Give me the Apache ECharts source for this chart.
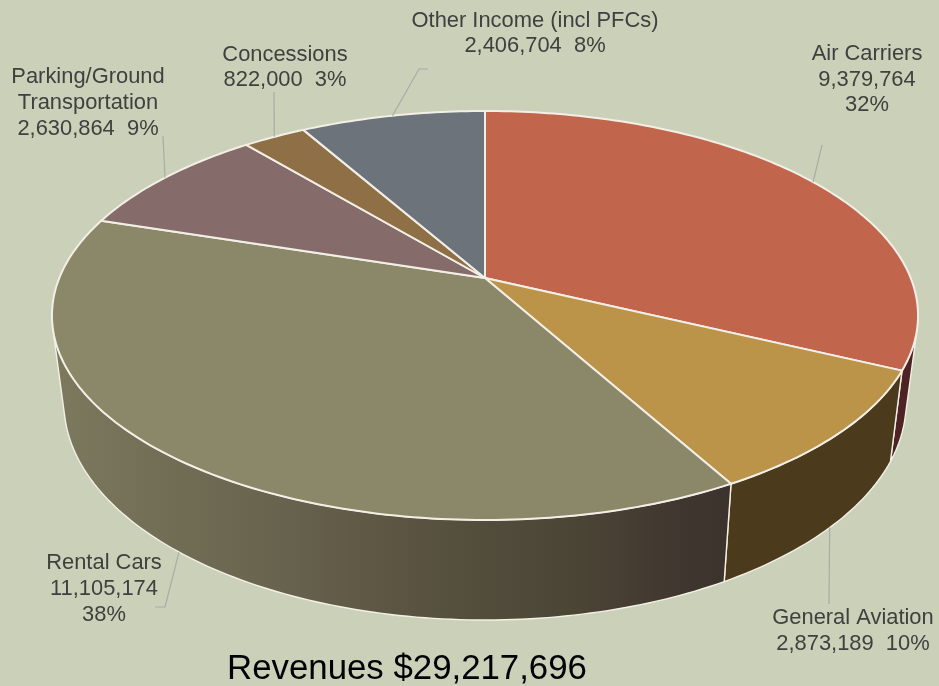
<!DOCTYPE html>
<html>
<head>
<meta charset="utf-8">
<style>html,body{margin:0;padding:0;background:#cbd0b8}#c{width:939px;height:686px}</style>
<script src="https://cdn.jsdelivr.net/npm/echarts@6/dist/echarts.min.js"></script>
</head>
<body>
<div id="c"></div>
<script>
const categories = ['Air Carriers','General Aviation','Rental Cars','Parking/Ground Transportation','Concessions','Other Income (incl PFCs)'];
const values = [9379764, 2873189, 11105174, 2630864, 822000, 2406704];
const valueLabels = ['9,379,764','2,873,189','11,105,174','2,630,864','822,000','2,406,704'];
const chartTitle = 'Revenues $29,217,696';

const topColors = ['#c1654d','#bb9449','#8b8769','#856b6a','#8f7046','#6c737a'];
const wallColors = ['#4f2223','#4c3a1c', null];
const rentalWallStops = [
  {offset:0,color:'#7d795e'},{offset:0.18,color:'#716d55'},{offset:0.36,color:'#66614c'},
  {offset:0.52,color:'#5a5441'},{offset:0.68,color:'#4f4a39'},{offset:0.78,color:'#4a4435'},
  {offset:0.88,color:'#433b31'},{offset:1,color:'#3a322c'}
];

// label layout: text lines, centre, and leader-line elbow points (pixels)
const labelLayout = [
  {lines:n=>`Air Carriers\n${n.v}\n${n.p}`, x:867, y:79.5, leader:[[822,145]], wall:false},
  {lines:n=>`General Aviation\n${n.v}  ${n.p}`, x:853, y:631, leader:[[829,604]], wall:true},
  {lines:n=>`Rental Cars\n${n.v}\n${n.p}`, x:104, y:589, leader:[[165,607],[155,607]], wall:true},
  {lines:n=>`Parking/Ground\nTransportation\n${n.v}  ${n.p}`, x:88, y:103, leader:[[163,136]], wall:false},
  {lines:n=>`Concessions\n${n.v}  ${n.p}`, x:285, y:67.5, leader:[[274,92]], wall:false},
  {lines:n=>`Other Income (incl PFCs)\n${n.v}  ${n.p}`, x:535, y:33.5, leader:[[419,69],[428,69]], wall:false}
];

const total = values.reduce((s,v)=>s+v,0);
const CX = 485, PERSP = 0.1834;
const topRim = {a:278, b:-146.64, R:425.7};
const botRim = {a:363.2, b:-143.1, R:413.9};
const rad = d => d*Math.PI/180;
function rim(p, deg){
  const u=Math.cos(rad(deg)), v=Math.sin(rad(deg)), d=1+PERSP*u;
  return [CX+p.R*v/d,(p.a+p.b*u)/d];
}
const angles=[0]; values.forEach((v,i)=>angles.push(angles[i]+v/total*360));

function support(p,nx,ny,from,to){
  let best=from,bv=-Infinity;
  for(let t=from;t<=to;t+=0.25){const q=rim(p,t),s=q[0]*nx+q[1]*ny;if(s>bv){bv=s;best=t;}}
  return best;
}
function tangent(side){
  const from=side>0?40:200,to=side>0?160:320;
  let tt=side>0?90:270,tb=tt;
  for(let i=0;i<8;i++){
    const pt=rim(topRim,tt),pb=rim(botRim,tb);
    const dx=pb[0]-pt[0],dy=pb[1]-pt[1];
    const nx=side>0?dy:-dy,ny=side>0?-dx:dx;
    tt=support(topRim,nx,ny,from,to);tb=support(botRim,nx,ny,from,to);
  }
  return {tt,tb};
}
const tanR=tangent(1),tanL=tangent(-1);

function arc(p,a,b){
  const pts=[],n=Math.max(2,Math.ceil(Math.abs(b-a)));
  for(let i=0;i<=n;i++)pts.push(rim(p,a+(b-a)*i/n));
  return pts;
}

function renderWall(params){
  const i=params.dataIndex,a=angles[i],b=angles[i+1];
  if(i>2)return null;
  const at=Math.max(a,tanR.tt),ab=Math.max(a,tanR.tb),bt=Math.min(b,tanL.tt),bb=Math.min(b,tanL.tb);
  const pts=arc(topRim,at,bt).concat(arc(botRim,bb,ab));
  const fill=i===2?{type:'linear',global:true,x:52,y:0,x2:732,y2:0,colorStops:rentalWallStops}:wallColors[i];
  return {type:'polygon',shape:{points:pts},style:{fill,stroke:'#f3f1e6',lineWidth:1.4,lineJoin:'round'}};
}
function renderTop(params){
  const i=params.dataIndex;
  const pts=[[CX,topRim.a]].concat(arc(topRim,angles[i],angles[i+1]));
  return {type:'polygon',shape:{points:pts},style:{fill:topColors[i],stroke:'#f3efe6',lineWidth:2,lineJoin:'round'}};
}
function renderLabel(params,api){
  const i=params.dataIndex,l=labelLayout[i],val=api.value(0);
  const mid=(angles[i]+angles[i+1])/2;
  const start=rim(l.wall?botRim:topRim,mid);
  return {type:'group',children:[
    {type:'polyline',shape:{points:[start].concat(l.leader)},style:{fill:null,stroke:'#a9abab',lineWidth:1.2}},
    {type:'text',style:{
      text:l.lines({v:valueLabels[i],p:Math.round(val/total*100)+'%'}),
      x:l.x,y:l.y,align:'center',verticalAlign:'middle',
      font:'21.9px "Liberation Sans", Arial, sans-serif',lineHeight:25.7,fill:'#404040'}}
  ]};
}

const chart=echarts.init(document.getElementById('c'),null,{renderer:'canvas'});
chart.setOption({
  animation:false,
  backgroundColor:'#cbd0b8',
  title:{text:chartTitle,left:402,top:647,textAlign:'center',
    textStyle:{fontFamily:'"Liberation Sans", Arial, sans-serif',fontSize:34.8,fontWeight:'normal',color:'#000'}},
  series:[
    {type:'custom',name:'walls',coordinateSystem:'none',z:1,silent:true,data:values,renderItem:renderWall},
    {type:'custom',name:'tops',coordinateSystem:'none',z:2,silent:true,data:values,renderItem:renderTop},
    {type:'custom',name:'labels',coordinateSystem:'none',z:3,silent:true,data:values,renderItem:renderLabel}
  ]
});
</script>
</body>
</html>
